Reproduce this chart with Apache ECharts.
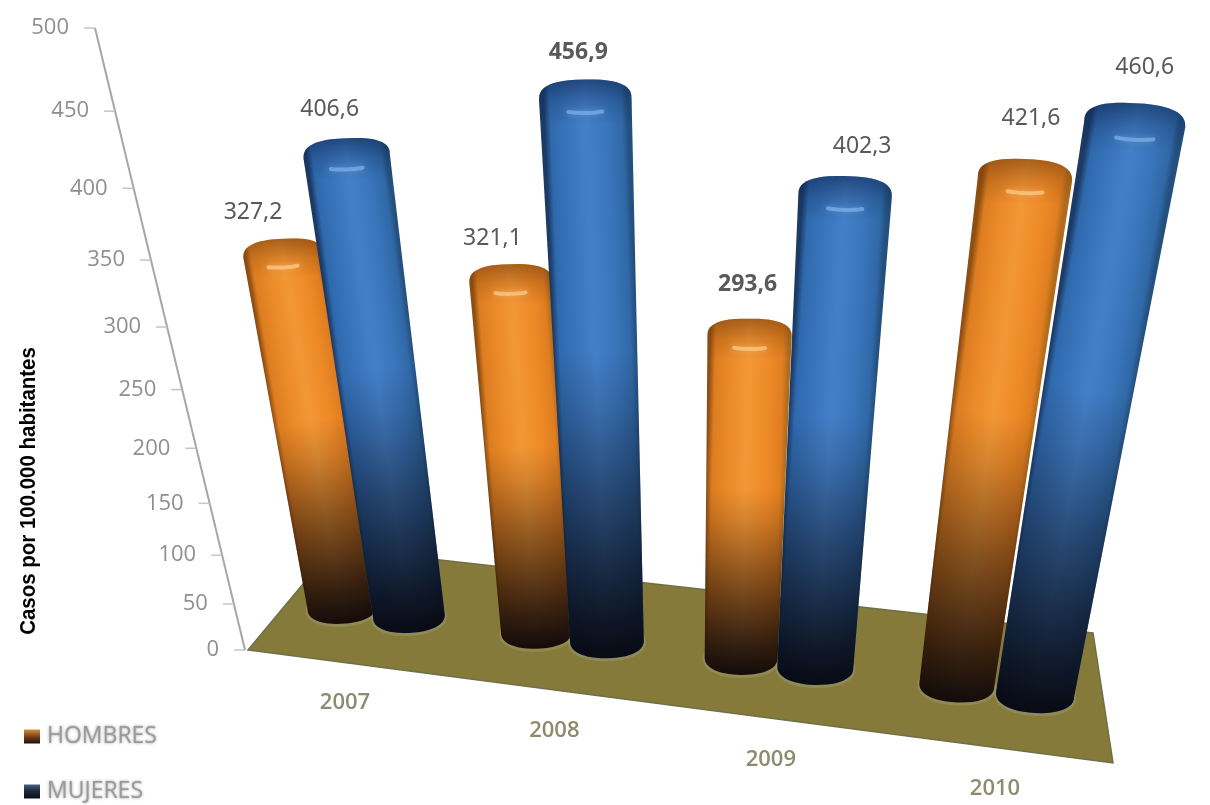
<!DOCTYPE html>
<html>
<head>
<meta charset="utf-8">
<title>Casos por 100.000 habitantes</title>
<style>html,body{margin:0;padding:0;background:#fff}#chart{width:1210px;height:805px}</style>
<script src="https://cdn.jsdelivr.net/npm/echarts@6/dist/echarts.min.js"></script>
</head>
<body>
<div id="chart"></div>
<script>
// Chart data
const years = ['2007', '2008', '2009', '2010'];
const hombres = [327.2, 321.1, 293.6, 421.6];
const mujeres = [406.6, 456.9, 402.3, 460.6];
const yTicks = [0, 50, 100, 150, 200, 250, 300, 350, 400, 450, 500];
const yMax = 500;
const yTitle = 'Casos por 100.000 habitantes';
const emphasised = [456.9, 293.6];

// Perspective of the plane holding the cylinders: unit square (group position, value) to screen quad
const SERIES_STEP = 0.35;
const U_SPAN = 3 + SERIES_STEP;
const barPlane = quadMap([342, 608], [1035, 695], [1146, 60], [243, 16]);

function quadMap(p0, p1, p2, p3) {
  const dx1 = p1[0] - p2[0], dx2 = p3[0] - p2[0], sx = p0[0] - p1[0] + p2[0] - p3[0];
  const dy1 = p1[1] - p2[1], dy2 = p3[1] - p2[1], sy = p0[1] - p1[1] + p2[1] - p3[1];
  const det = dx1 * dy2 - dx2 * dy1;
  const g = (sx * dy2 - dx2 * sy) / det, h = (dx1 * sy - sx * dy1) / det;
  const a = p1[0] - p0[0] + g * p1[0], b = p3[0] - p0[0] + h * p3[0];
  const d = p1[1] - p0[1] + g * p1[1], e = p3[1] - p0[1] + h * p3[1];
  return (s, t) => {
    const w = g * s + h * t + 1;
    return [(a * s + b * t + p0[0]) / w, (d * s + e * t + p0[1]) / w];
  };
}

// One-dimensional perspective along a straight screen segment
function lineMap(a, b, w1) {
  return f => {
    const w = 1 - (1 - w1) * f;
    return [(a[0] + f * (b[0] * w1 - a[0])) / w, (a[1] + f * (b[1] * w1 - a[1])) / w];
  };
}
const axisLine = lineMap([245, 650], [95, 28], 0.72);
const yearLine = lineMap([345, 703], [995, 789], 0.95);
const floorQuad = [[248, 650], [333, 548], [1093, 633], [1113, 763]];

// Value and group fractions come from the cartesian scales of the hidden grid
function fractions(params, api, cat, value) {
  const c = api.coord([cat, value]);
  const sys = params.coordSys;
  return {
    cat: (c[0] - sys.x) / sys.width * years.length - 0.5,
    val: 1 - (c[1] - sys.y) / sys.height
  };
}

const palettes = {
  orange: {
    across: ['#8f4f12', '#dd7d20', '#ec8c2a', '#f39736', '#ee8a28', '#e07e20', '#b06c1c'],
    capShade: 'rgba(120,62,14,', glow: 'rgba(255,205,140,0.7)', scale: 0.97
  },
  blue: {
    across: ['#1c3a66', '#2f69ad', '#3b75bc', '#4480c8', '#3a75bb', '#3069a8', '#24507e'],
    capShade: 'rgba(14,40,84,', glow: 'rgba(125,180,235,0.7)', scale: 1
  }
};
const acrossStops = [0, 0.07, 0.3, 0.5, 0.75, 0.93, 1];
const shadeStops = [[0, 0], [0.45, 0], [0.55, 0.14], [0.71, 0.44], [0.82, 0.64], [0.91, 0.8], [1, 0.94]];
const labelOffsets = [
  [[-30, -43], [-18, -43], [-2, -52], [6, -60]],
  [[-17, -47], [-7, -47], [17, -49], [10, -57]]
];

function endPoint(c, n, d, rx, ry, ang, exponent) {
  const p = 2 / exponent;
  const cs = Math.cos(ang), sn = Math.sin(ang);
  const ex = Math.sign(cs) * Math.pow(Math.abs(cs), p) * rx;
  const ey = Math.sign(sn) * Math.pow(Math.abs(sn), p) * ry;
  return [c[0] + n[0] * ex + d[0] * ey, c[1] + n[1] * ex + d[1] * ey];
}

function cylinder(params, api, seriesIdx, pal) {
  const cat = api.value(0), value = api.value(1);
  const fr = fractions(params, api, cat, value);
  const fr0 = fractions(params, api, cat, 0);
  const u = (fr.cat + seriesIdx * SERIES_STEP) / U_SPAN;
  const T = barPlane(u, fr.val), B = barPlane(u, fr0.val);
  const halfWidth = t => {
    const a = barPlane(u - 0.005, t), b = barPlane(u + 0.005, t);
    return Math.hypot(b[0] - a[0], b[1] - a[1]) / 0.01 / U_SPAN * 0.172 * pal.scale * (1 + 0.08 * (1 - u));
  };
  const rT = halfWidth(fr.val), rB = halfWidth(fr0.val);
  const len = Math.hypot(T[0] - B[0], T[1] - B[1]);
  const d = [(T[0] - B[0]) / len, (T[1] - B[1]) / len];
  const perp = d[1] < 0 ? [-d[1], d[0]] : [d[1], -d[0]];
  // End ellipses stay nearly level; only a little of the lean carries into them
  const tilt = perp[1] * 0.3;
  const tiltLen = Math.hypot(1, tilt);
  const side = [1 / tiltLen, tilt / tiltLen];
  const up = [0, -1];
  const ryT = rT * 0.42, ryB = rB * 0.46;

  const outline = [], steps = 24;
  for (let i = 0; i <= steps; i++) {
    outline.push(endPoint(T, side, up, rT, ryT, Math.PI - Math.PI * i / steps, 2.6));
  }
  for (let i = 0; i <= steps; i++) {
    outline.push(endPoint(B, side, up, rB, ryB, -Math.PI * i / steps, 2.2));
  }
  const glow = [];
  for (let i = 0; i <= 10; i++) {
    glow.push(endPoint(T, side, up, rT * 0.9, ryT * 0.72, -Math.PI / 2 - 0.42 + 0.84 * i / 10, 2));
  }
  const halo = [];
  for (let i = 0; i < steps * 2; i++) {
    const q = endPoint(B, side, up, rB + 2, ryB + 2, Math.PI * i / steps, 2.2);
    halo.push([q[0], q[1] + 1]);
  }

  const mid = [(T[0] + B[0]) / 2, (T[1] + B[1]) / 2];
  const rMid = (rT + rB) / 2;
  const acrossFill = {
    type: 'linear', global: true,
    x: mid[0] - perp[0] * rMid, y: mid[1] - perp[1] * rMid,
    x2: mid[0] + perp[0] * rMid, y2: mid[1] + perp[1] * rMid,
    colorStops: acrossStops.map((o, i) => ({ offset: o, color: pal.across[i] }))
  };
  const shadeFill = {
    type: 'linear', global: true,
    x: T[0], y: T[1], x2: B[0], y2: B[1] + ryB,
    colorStops: shadeStops.map(s => ({ offset: s[0], color: 'rgba(5,3,8,' + s[1] + ')' }))
  };
  // Rounded top: darkest at the back rim, fading into the body below the front rim
  const capFill = {
    type: 'linear', global: true,
    x: T[0], y: T[1] - ryT, x2: T[0], y2: T[1] + ryT * 1.3,
    colorStops: [
      { offset: 0, color: pal.capShade + '0.62)' },
      { offset: 0.5, color: pal.capShade + '0.22)' },
      { offset: 1, color: pal.capShade + '0)' }
    ]
  };

  const offset = labelOffsets[seriesIdx][cat];
  return {
    type: 'group',
    children: [
      { type: 'polygon', shape: { points: halo }, style: { fill: 'rgba(165,165,140,0.35)' } },
      { type: 'polygon', shape: { points: outline }, style: { fill: acrossFill } },
      { type: 'polygon', shape: { points: outline }, style: { fill: capFill } },
      { type: 'polygon', shape: { points: outline }, style: { fill: shadeFill } },
      {
        type: 'polyline', shape: { points: glow },
        style: { fill: null, stroke: pal.glow, lineWidth: 4, lineCap: 'round', shadowBlur: 7, shadowColor: pal.glow }
      },
      {
        type: 'text',
        style: {
          x: T[0] + offset[0], y: T[1] + offset[1],
          text: value.toFixed(1).replace('.', ','),
          fill: '#595959',
          font: (emphasised.includes(value) ? '700' : '400') + ' 23px "Noto Sans", sans-serif',
          align: 'center', verticalAlign: 'middle'
        }
      }
    ]
  };
}

function softText(x, y, text, size, color, weight, align) {
  return {
    type: 'text',
    style: {
      x, y, text, fill: color, align: align || 'center', verticalAlign: 'middle',
      font: (weight || 400) + ' ' + size + 'px "Open Sans", sans-serif',
      shadowBlur: 3, shadowColor: color
    }
  };
}

const orangeLegend = { type: 'linear', x: 0, y: 0, x2: 0, y2: 1, colorStops: [
  { offset: 0, color: '#d98a3a' }, { offset: 0.5, color: '#7a4418' }, { offset: 1, color: '#1d0f08' }] };
const blueLegend = { type: 'linear', x: 0, y: 0, x2: 0, y2: 1, colorStops: [
  { offset: 0, color: '#4a5f7c' }, { offset: 0.45, color: '#1d2a3c' }, { offset: 1, color: '#080c18' }] };

// One legend block per series, stacked with a wide gap
function legendBlock(name, fill, top) {
  return {
    orient: 'vertical', left: 24, top, padding: 0, itemWidth: 16, itemHeight: 14,
    selectedMode: false,
    textStyle: { color: '#9a9a9a', fontSize: 23, fontFamily: '"Open Sans", sans-serif',
      padding: [0, 0, 0, 2], textShadowBlur: 3, textShadowColor: '#9a9a9a' },
    data: [{ name, icon: 'rect', itemStyle: { color: fill } }]
  };
}

const option = {
  backgroundColor: '#fff',
  animation: false,
  grid: { left: 0, right: 0, top: 0, bottom: 0 },
  xAxis: { type: 'category', data: years, show: false },
  yAxis: { type: 'value', min: 0, max: yMax, show: false },
  legend: [legendBlock('HOMBRES', orangeLegend, 725), legendBlock('MUJERES', blueLegend, 776 + 4)],
  graphic: [{
    type: 'text', x: 29, y: 491, rotation: Math.PI / 2, scaleX: 0.93, silent: true,
    style: {
      text: yTitle, fill: '#000', align: 'center', verticalAlign: 'middle',
      font: '700 22px "Liberation Sans", sans-serif'
    }
  }],
  series: [
    {
      // Floor of the chart box
      type: 'custom', coordinateSystem: 'cartesian2d', silent: true, clip: false, z: 1,
      data: [0],
      renderItem: () => ({
        type: 'polygon', shape: { points: floorQuad },
        style: { fill: '#857a3a', stroke: '#6d7048', lineWidth: 1.5 }
      })
    },
    {
      // Slanted value axis with its ticks and labels
      type: 'custom', coordinateSystem: 'cartesian2d', silent: true, clip: false, z: 2,
      data: yTicks.map(v => [0, v]),
      renderItem: (params, api) => {
        const v = api.value(1);
        const fr = fractions(params, api, 0, v);
        const p = axisLine(fr.val);
        const children = [
          { type: 'line', shape: { x1: p[0] - 11, y1: p[1], x2: p[0], y2: p[1] },
            style: { stroke: '#c4c4c4', lineWidth: 1.5 } },
          softText(p[0] - 26, p[1], String(v), 22, '#8f8f8f', 400, 'right')
        ];
        if (v === 0) {
          const e = axisLine(1);
          children.push({ type: 'line', shape: { x1: p[0], y1: p[1], x2: e[0], y2: e[1] },
            style: { stroke: '#a6a6a6', lineWidth: 2 } });
        }
        return { type: 'group', children };
      }
    },
    {
      // Year labels along the front edge of the floor
      type: 'custom', coordinateSystem: 'cartesian2d', silent: true, clip: false, z: 2,
      data: years.map((y, i) => [i, 0]),
      renderItem: (params, api) => {
        const i = api.value(0);
        const p = yearLine(i / (years.length - 1));
        return softText(p[0], p[1], years[i], 22, '#8b8b6e', 600);
      }
    },
    {
      name: 'HOMBRES', type: 'custom', coordinateSystem: 'cartesian2d', clip: false, z: 3, silent: true,
      itemStyle: { color: '#f09430' },
      data: hombres.map((v, i) => [i, v]),
      renderItem: (params, api) => cylinder(params, api, 0, palettes.orange)
    },
    {
      name: 'MUJERES', type: 'custom', coordinateSystem: 'cartesian2d', clip: false, z: 4, silent: true,
      itemStyle: { color: '#3f7cc2' },
      data: mujeres.map((v, i) => [i, v]),
      renderItem: (params, api) => cylinder(params, api, 1, palettes.blue)
    }
  ]
};

echarts.init(document.getElementById('chart')).setOption(option);
</script>
</body>
</html>
